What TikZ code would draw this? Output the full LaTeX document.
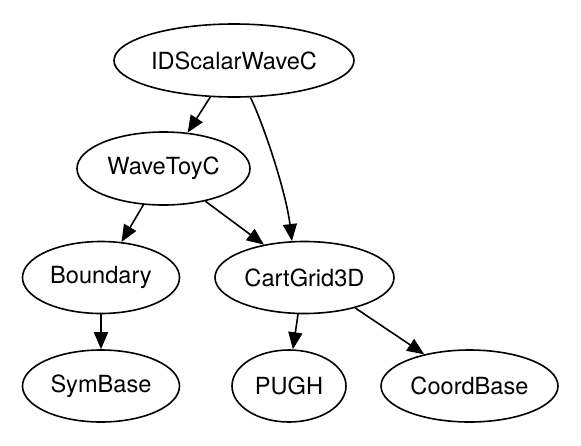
\documentclass[tikz,border=0pt]{standalone}
\usepackage{fontspec}
\setmainfont{TeX Gyre Heros}
\usetikzlibrary{arrows.meta,shapes.geometric}
\tikzset{
  pkg/.style={ellipse, draw, line width=1.6pt, inner sep=0pt, minimum height=72pt, font=\fontsize{23.6pt}{28pt}\selectfont},
  dep/.style={line width=1.6pt, -{Triangle[length=17pt,width=14pt]}}
}
\begin{document}
\begin{tikzpicture}[x=1pt,y=-1pt]
\useasboundingbox (0,0) rectangle (581,445);
\node[pkg, minimum width=240pt, minimum height=73pt] (id) at (234,60.5) {IDScalarWaveC};
\node[pkg, minimum width=173pt, minimum height=73pt] (wt) at (163.5,168.5) {WaveToyC};
\node[pkg, minimum width=157pt] (bd) at (101,277.5) {Boundary};
\node[pkg, minimum width=179pt] (cg) at (304.5,277.5) {CartGrid3D};
\node[pkg, minimum width=157pt] (sb) at (101,386) {SymBase};
\node[pkg, minimum width=114pt] (pu) at (289,386) {PUGH};
\node[pkg, minimum width=177pt] (cb) at (469.5,386) {CoordBase};
\draw[dep] (id.-123) -- (wt.56);
\draw[dep] (id.-66) .. controls +(12,24) and +(-6,-50) .. (cg.109);
\draw[dep] (wt.-119) -- (bd.60);
\draw[dep] (wt.-38) -- (cg.141);
\draw[dep] (bd.south) -- (sb.north);
\draw[dep] (cg.-100) -- (pu.84);
\draw[dep] (cg.-31) -- (cb.145);
\end{tikzpicture}
\end{document}
